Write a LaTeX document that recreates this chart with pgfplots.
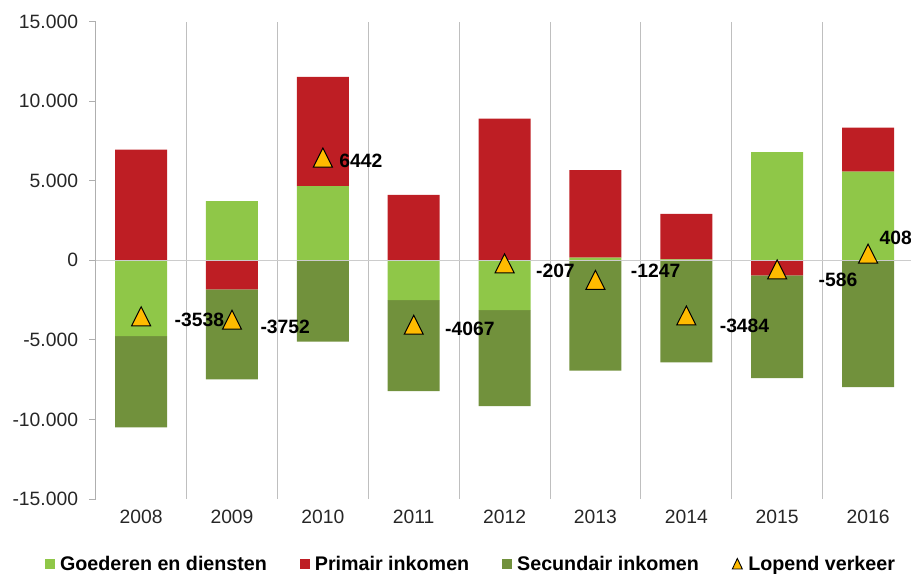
\documentclass[border=0pt]{standalone}
\usepackage{pgfplots}
\pgfplotsset{compat=1.18}
\usepackage{pgfplotstable}
\usepackage{fontspec}
\setmainfont{Liberation Sans}
\definecolor{lg}{RGB}{143,199,72}
\definecolor{rd}{RGB}{190,30,36}
\definecolor{dg}{RGB}{113,145,60}
\definecolor{yl}{RGB}{255,187,0}
\definecolor{axc}{RGB}{175,175,175}
\newcommand\fs{\fontsize{19.3bp}{23bp}\selectfont}
\newcommand\fl{\fontsize{19.7bp}{23bp}\selectfont}
% x goods+ prim+ goods- prim- sec-
\pgfplotstableread{
x gp pp gn pn sn
0 0 6966 -4770 0 -5734
1 3718 0 0 -1827 -5653
2 4663 6868 0 0 -5104
3 0 4115 -2502 0 -5715
4 0 8904 -3132 0 -6030
5 164 5507 0 0 -6931
6 60 2857 0 0 -6408
7 6805 0 0 -945 -6452
8 5583 2753 0 0 -7965
}\bars
\pgfplotstableread{
x y dx dy lbl
0 -3538 33 0 -3538
1 -3752 28 -4 -3752
2 6442 16 0 6442
3 -4067 31 -1 -4067
4 -207 31 -4.5 -207
5 -1247 35 12 -1247
6 -3484 33 -7 -3484
7 -586 41 -7 -586
8 408 11 19 408
}\lv
\pgfplotsset{
  base/.style={scale only axis, width=817.8bp, height=477.3bp,
    xmin=-0.5, xmax=8.5, ymin=-15000, ymax=15000},
  sqlg/.style={legend image code/.code={\fill[lg] (0bp,-4.5bp) rectangle (9bp,4.5bp);}},
  sqrd/.style={legend image code/.code={\fill[rd] (0bp,-4.5bp) rectangle (9bp,4.5bp);}},
  sqdg/.style={legend image code/.code={\fill[dg] (0bp,-4.5bp) rectangle (9bp,4.5bp);}},
  trlv/.style={legend image code/.code={\filldraw[fill=yl, draw=black, line width=0.9bp] (0.5bp,-5bp) -- (10.5bp,-5bp) -- (5.5bp,5.5bp) -- cycle;}},
}
\begin{document}
\begin{tikzpicture}
\begin{axis}[base, name=ax, ybar stacked, bar width=52bp, axis on top,
  axis y line*=left, axis x line*=bottom,
  x axis line style={draw=none},
  y axis line style={axc, line width=0.9bp},
  ytick={-15000,-10000,...,15000},
  scaled y ticks=false,
  tick align=outside, major tick length=6.5bp,
  ytick style={axc, line width=0.9bp},
  yticklabel style={font=\fs, text=black!85, inner sep=0pt, xshift=-11bp},
  /pgf/number format/1000 sep={.},
  /pgf/number format/assume math mode=true,
  xtick={0,...,8},
  xticklabels={2008,2009,2010,2011,2012,2013,2014,2015,2016},
  xtick style={draw=none},
  xticklabel style={font=\fs, text=black!85, inner sep=0pt, yshift=-4bp},
  minor xtick={0.5,1.5,...,7.5},
  minor tick length=0pt,
  xminorgrids=true,
  minor x grid style={axc!80, line width=0.9bp},
  extra y ticks={0}, extra y tick labels={},
  extra y tick style={ymajorgrids=true, major grid style={black!20, line width=1.5bp}},
  legend columns=4,
  legend style={at={(0,0)}, anchor=west, xshift=-50.7bp, yshift=-65bp,
    draw=none, fill=none, inner sep=0pt, font=\fl\bfseries, text=black,
    nodes={inner sep=0pt},
    /tikz/every odd column/.append style={column sep=5.5bp},
    /tikz/every even column/.append style={column sep=33bp}},
]
\addplot[fill=lg, draw=none, forget plot] table[x=x, y=gp]{\bars};
\addplot[fill=rd, draw=none, forget plot] table[x=x, y=pp]{\bars};
\addplot[fill=lg, draw=none, forget plot] table[x=x, y=gn]{\bars};
\addplot[fill=rd, draw=none, forget plot] table[x=x, y=pn]{\bars};
\addplot[fill=dg, draw=none, forget plot] table[x=x, y=sn]{\bars};
\addlegendimage{sqlg}\addlegendentry{Goederen en diensten}
\addlegendimage{sqrd}\addlegendentry{Primair inkomen}
\addlegendimage{sqdg}\addlegendentry{Secundair inkomen}
\addlegendimage{trlv}\addlegendentry{Lopend verkeer}
\end{axis}
\begin{axis}[base, hide axis, clip=false]
\addplot[only marks, mark=triangle*, mark size=11bp,
  mark options={fill=yl, draw=black, line width=1bp, yscale=1.15, yshift=-2.5bp},
  nodes near coords, point meta=explicit symbolic,
  visualization depends on={\thisrow{dx}\as\myDx},
  visualization depends on={\thisrow{dy}\as\myDy},
  every node near coord/.append style={anchor=west, inner sep=0pt,
    xshift=\myDx*1bp, yshift=\myDy*1bp, font=\fs\bfseries, text=black}]
  table[x=x, y=y, meta=lbl]{\lv};
\end{axis}
\pgfresetboundingbox
\path ([shift={(-95.7bp,21.7bp)}]ax.north west) rectangle ([shift={(815.3bp,-552.3bp)}]ax.north west);
\end{tikzpicture}
\end{document}
